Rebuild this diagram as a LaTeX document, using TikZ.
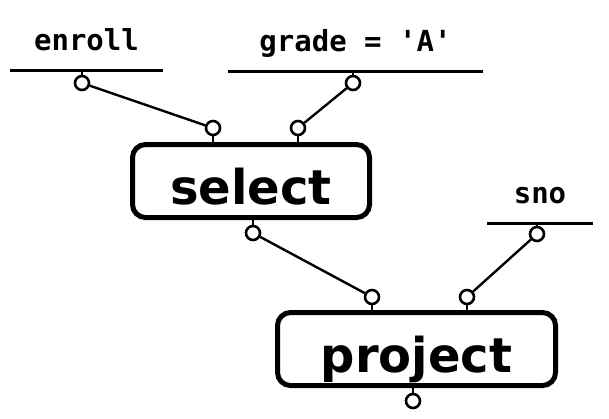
\documentclass[tikz,border=0pt]{standalone}
\usepackage{fontspec}
\setmainfont{DejaVu Sans}
\newfontfamily\relfont{DejaVu Sans Mono}
\usetikzlibrary{positioning}
\tikzset{
  rel/.style={font=\relfont\bfseries\fontsize{29}{31}\selectfont, anchor=base,
              inner sep=0pt, minimum width=#1},
  opbox/.style={draw, line width=5pt, rounded corners=13pt, inner sep=0pt,
                font=\bfseries\fontsize{48}{50}\selectfont,
                text height=47pt, text depth=0pt, minimum height=73pt},
  port/.style={circle, draw, line width=2.6pt, fill=white, inner sep=0pt,
               minimum size=14pt},
  bar/.style={line width=3pt},
  link/.style={line width=2.4pt}
}

\begin{document}
\begin{tikzpicture}[x=1pt, y=-1pt]
\useasboundingbox (0,0) rectangle (609,418);
% Relations with their bars
\node[rel=153pt] (enroll) at (86.5,50) {enroll};
\node[rel=255pt] (grade) at (355.5,51) {grade = 'A'};
\node[rel=106pt] (sno) at (540,203) {sno};
\coordinate (enrollbar) at ([yshift=-20pt]enroll.base);
\coordinate (gradebar) at ([yshift=-19pt]grade.base);
\coordinate (snobar) at ([yshift=-19pt]sno.base);
\foreach \r in {enroll,grade,sno} {
  \draw[bar] ([yshift=-20pt]\r.base west) -- ([yshift=-20pt]\r.base east);
}
% Operator boxes
\node[opbox, minimum width=237pt] (select) at (251,181) {select};
\node[opbox, minimum width=278pt] (project) at (416.5,349) {project};
% Ports
\node[port] (enrollout) at (82,83) {};
\node[port] (gradeout) at (353,83) {};
\node[port] (selin1) at (213,128) {};
\node[port] (selin2) at (298,128) {};
\node[port] (selout) at (253,233) {};
\node[port] (projin1) at (372,297) {};
\node[port] (projin2) at (467,297) {};
\node[port] (snoout) at (537,234) {};
\node[port] (projout) at (413,401) {};
% Stems
\draw[link] (enrollout.north) -- (enrollout.north |- enrollbar);
\draw[link] (gradeout.north) -- (gradeout.north |- gradebar);
\draw[link] (snoout.north) -- (snoout.north |- snobar);
\draw[link] (selin1.south) -- (selin1.south |- select.north);
\draw[link] (selin2.south) -- (selin2.south |- select.north);
\draw[link] (selout.north) -- (selout.north |- select.south);
\draw[link] (projin1.south) -- (projin1.south |- project.north);
\draw[link] (projin2.south) -- (projin2.south |- project.north);
\draw[link] (projout.north) -- (projout.north |- project.south);
% Connectors
\draw[link] (enrollout) -- (selin1);
\draw[link] (gradeout) -- (selin2);
\draw[link] (selout) -- (projin1);
\draw[link] (snoout) -- (projin2);
\end{tikzpicture}
\end{document}
